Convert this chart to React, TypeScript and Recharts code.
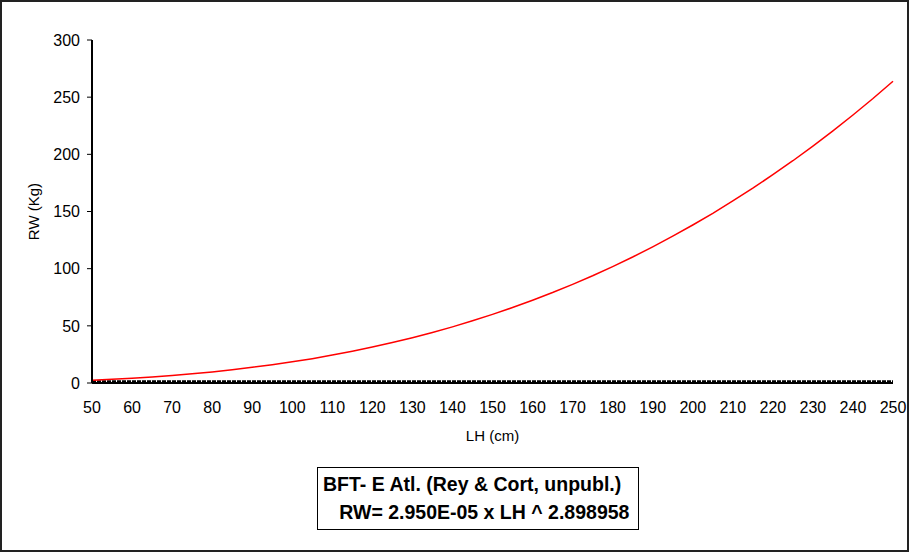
import { LineChart, Line, XAxis, YAxis, ReferenceLine } from 'recharts';

// length (cm) and weight (kg)
const lengths = [
  50, 55, 60, 65, 70, 75, 80, 85, 90, 95, 100, 105, 110, 115, 120, 125, 130, 135, 140, 145,
  150, 155, 160, 165, 170, 175, 180, 185, 190, 195, 200, 205, 210, 215, 220, 225, 230, 235,
  240, 245, 250,
];
const weights = [
  2.5, 3.3, 4.2, 5.3, 6.6, 8.1, 9.7, 11.6, 13.7, 16.0, 18.5, 21.3, 24.4, 27.8, 31.4, 35.4,
  39.6, 44.2, 49.1, 54.4, 60.0, 66.0, 72.4, 79.1, 86.3, 93.8, 101.8, 110.2, 119.1, 128.4,
  138.2, 148.4, 159.2, 170.4, 182.2, 194.4, 207.2, 220.6, 234.4, 248.8, 263.9,
];
const xTicks = [50, 60, 70, 80, 90, 100, 110, 120, 130, 140, 150, 160, 170, 180, 190, 200, 210, 220, 230, 240, 250];
const yTicks = [0, 50, 100, 150, 200, 250, 300];
const legendLines = ['BFT- E Atl. (Rey & Cort, unpubl.)', '\u00a0\u00a0\u00a0RW= 2.950E-05 x LH ^ 2.898958'];

const data = lengths.map((lh, i) => ({ lh, rw: weights[i] }));

const font = 'Arial, "Liberation Sans", sans-serif';

export default function App() {
  return (
    <div
      style={{
        position: 'absolute',
        left: 0,
        top: 0,
        width: 909,
        height: 552,
        boxSizing: 'border-box',
        border: '2px solid #222',
        background: '#fff',
        fontFamily: font,
      }}
    >
      <div style={{ position: 'absolute', left: -2, top: -2 }}>
        <LineChart width={909} height={552} data={data} margin={{ top: 40, right: 16, bottom: 107, left: 0 }}>
          <XAxis
            dataKey="lh"
            type="number"
            domain={[50, 250]}
            ticks={xTicks}
            interval={0}
            height={62}
            tickLine={false}
            axisLine={{ stroke: '#000', strokeWidth: 2 }}
            tick={{ fill: '#000', fontSize: 16, fontFamily: font }}
            tickMargin={13}
            label={{ value: 'LH (cm)', position: 'insideBottom', offset: 4, fill: '#000', fontSize: 15, fontFamily: font }}
          />
          <XAxis xAxisId="top" orientation="top" dataKey="lh" type="number" domain={[50, 250]} height={0} tick={false} tickLine={false} axisLine={{ stroke: '#000', strokeWidth: 2 }} />
          <YAxis
            type="number"
            domain={[0, 300]}
            ticks={yTicks}
            interval={0}
            width={92}
            tickSize={5}
            tickLine={{ stroke: '#000' }}
            axisLine={{ stroke: '#000', strokeWidth: 2 }}
            tick={{ fill: '#000', fontSize: 16, fontFamily: font }}
            tickMargin={7}
            label={{ value: 'RW (Kg)', angle: -90, position: 'center', dx: -12, fill: '#000', fontSize: 15, fontFamily: font }}
          />
          <YAxis yAxisId="right" orientation="right" domain={[0, 300]} width={0} tick={false} tickLine={false} axisLine={{ stroke: '#000', strokeWidth: 2 }} />
          <ReferenceLine y={1.2} stroke="#000" strokeWidth={3} strokeDasharray="4 1" />
          <Line dataKey="rw" type="linear" stroke="#ff0000" strokeWidth={1.5} dot={false} isAnimationActive={false} />
        </LineChart>
      </div>
      <div
        style={{
          position: 'absolute',
          left: 315,
          top: 465,
          width: 322,
          height: 63,
          boxSizing: 'border-box',
          border: '1.5px solid #000',
          padding: '2px 0 0 5px',
          fontWeight: 'bold',
          fontSize: 19.5,
          lineHeight: '28px',
          color: '#000',
          whiteSpace: 'pre',
        }}
      >
        {legendLines.map((t) => (
          <div key={t}>{t}</div>
        ))}
      </div>
    </div>
  );
}
